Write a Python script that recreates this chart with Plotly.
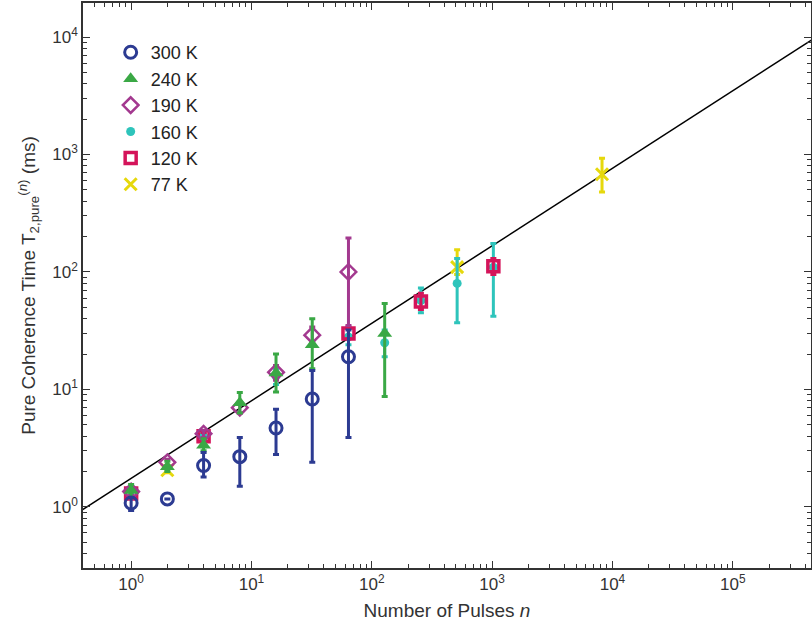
import plotly.graph_objects as go

# ---- data ----
n_300 = [1, 2, 4, 8, 16, 32, 64]
t_300 = [1.08, 1.17, 2.25, 2.68, 4.7, 8.3, 19.0]
lo_300 = [0.93, 1.17, 1.8, 1.5, 2.8, 2.4, 3.9]
hi_300 = [1.2, 1.17, 2.9, 3.9, 6.8, 14.5, 32.0]

n_240 = [1, 2, 4, 8, 16, 32, 128]
t_240 = [1.38, 2.2, 3.35, 7.7, 13.8, 24.0, 30.0]
lo_240 = [1.2, 2.0, 3.0, 6.3, 9.5, 15.0, 8.7]
hi_240 = [1.55, 2.45, 3.8, 9.4, 20.0, 40.0, 54.0]

n_190 = [1, 2, 4, 8, 16, 32, 64]
t_190 = [1.35, 2.4, 4.2, 7.0, 14.0, 29.0, 100.0]
lo_190 = [1.25, 2.25, 3.9, 6.3, 12.0, 25.0, 35.0]
hi_190 = [1.45, 2.55, 4.5, 7.8, 16.0, 34.0, 195.0]

n_160 = [1, 4, 16, 64, 128, 256, 512, 1024]
t_160 = [1.4, 4.0, 13.0, 28.0, 25.0, 57.0, 80.0, 110.0]
lo_160 = [1.3, 3.8, 11.0, 24.0, 19.0, 45.0, 37.0, 42.0]
hi_160 = [1.5, 4.3, 15.0, 33.0, 32.0, 73.0, 130.0, 175.0]

n_120 = [1, 4, 64, 256, 1024]
t_120 = [1.3, 4.0, 30.0, 56.0, 112.0]
lo_120 = [1.2, 3.8, 27.0, 48.0, 95.0]
hi_120 = [1.4, 4.3, 34.0, 66.0, 130.0]

n_77 = [1, 2, 512, 8192]
t_77 = [1.3, 2.05, 110.0, 680.0]
lo_77 = [1.2, 1.95, 95.0, 480.0]
hi_77 = [1.4, 2.2, 155.0, 930.0]

fit_n = [0.35, 5e5]
fit_t = [0.875, 10100.0]

x_major = [1, 10, 100, 1000, 10000, 100000]
x_labels = ["10<sup>0</sup>", "10<sup>1</sup>", "10<sup>2</sup>", "10<sup>3</sup>", "10<sup>4</sup>", "10<sup>5</sup>"]
y_major = [1, 10, 100, 1000, 10000]
y_labels = ["10<sup>0</sup>", "10<sup>1</sup>", "10<sup>2</sup>", "10<sup>3</sup>", "10<sup>4</sup>"]

minor_x = [m * 10 ** k for k in range(-1, 6) for m in range(2, 10)]
minor_y = [m * 10 ** k for k in range(-1, 5) for m in range(2, 10)]

FONT = "Liberation Sans, Arial, sans-serif"

series = [
    # name, n, t, lo, hi, color, symbol, size, line width, rank
    ("77 K", n_77, t_77, lo_77, hi_77, "#e6d80c", "x-thin", 12, 3, 6),
    ("160 K", n_160, t_160, lo_160, hi_160, "#2ec4bb", "circle", 9, 0, 4),
    ("120 K", n_120, t_120, lo_120, hi_120, "#d4145a", "square-open", 11, 3.5, 5),
    ("190 K", n_190, t_190, lo_190, hi_190, "#a3398f", "diamond-open", 12, 2.5, 3),
    ("240 K", n_240, t_240, lo_240, hi_240, "#3aa845", "triangle-up", 13, 0, 2),
    ("300 K", n_300, t_300, lo_300, hi_300, "#2c3b92", "circle-open", 12, 3, 1),
]

fig = go.Figure()
fig.add_trace(go.Scatter(x=fit_n, y=fit_t, mode="lines", line=dict(color="black", width=1.5),
                         showlegend=False, hoverinfo="skip"))
for name, n, t, lo, hi, col, sym, size, lw, rank in series:
    plus = [h - v for h, v in zip(hi, t)]
    minus = [v - l for v, l in zip(t, lo)]
    fig.add_trace(go.Scatter(
        x=n, y=t, mode="markers", name=name, legendrank=rank,
        marker=dict(symbol=sym, size=size, color=col,
                    line=dict(color=col, width=lw)),
        error_y=dict(type="data", symmetric=False, array=plus, arrayminus=minus,
                     color=col, thickness=3, width=3),
    ))

axis_common = dict(
    type="log", showgrid=False, zeroline=False, showline=True, linecolor="#333",
    linewidth=1.5, mirror="allticks", ticks="inside", ticklen=7, tickcolor="#333",
    automargin=False,
    tickfont=dict(family=FONT, size=17, color="#333"),
)
fig.update_xaxes(**axis_common, range=[-0.40, 5.65], tickvals=x_major, ticktext=x_labels,
                 minor=dict(tickvals=minor_x, ticks="inside", ticklen=4, tickcolor="#333"),
                 title=dict(text="Number of Pulses <i>n</i>", standoff=11,
                            font=dict(family=FONT, size=19, color="#333")))
fig.update_yaxes(**axis_common, range=[-0.52, 4.29], tickvals=y_major, ticktext=y_labels,
                 minor=dict(tickvals=minor_y, ticks="inside", ticklen=4, tickcolor="#333"),
                 title=dict(text="Pure Coherence Time T<sub>2,pure</sub><sup>(<i>n</i>)</sup> (ms)", standoff=12,
                            font=dict(family=FONT, size=19, color="#333")))

fig.update_layout(
    width=812, height=624, margin=dict(l=83, r=1, t=3, b=56),
    paper_bgcolor="white", plot_bgcolor="white", showlegend=True,
    legend=dict(x=0.038, y=0.945, xanchor="left", yanchor="top", bgcolor="rgba(0,0,0,0)",
                tracegroupgap=0, itemwidth=30,
                font=dict(family=FONT, size=18, color="#222")),
)

fig.write_html("out.html", config={"displayModeBar": False},
               post_script="document.body.style.margin='0';document.body.style.overflow='hidden';")
